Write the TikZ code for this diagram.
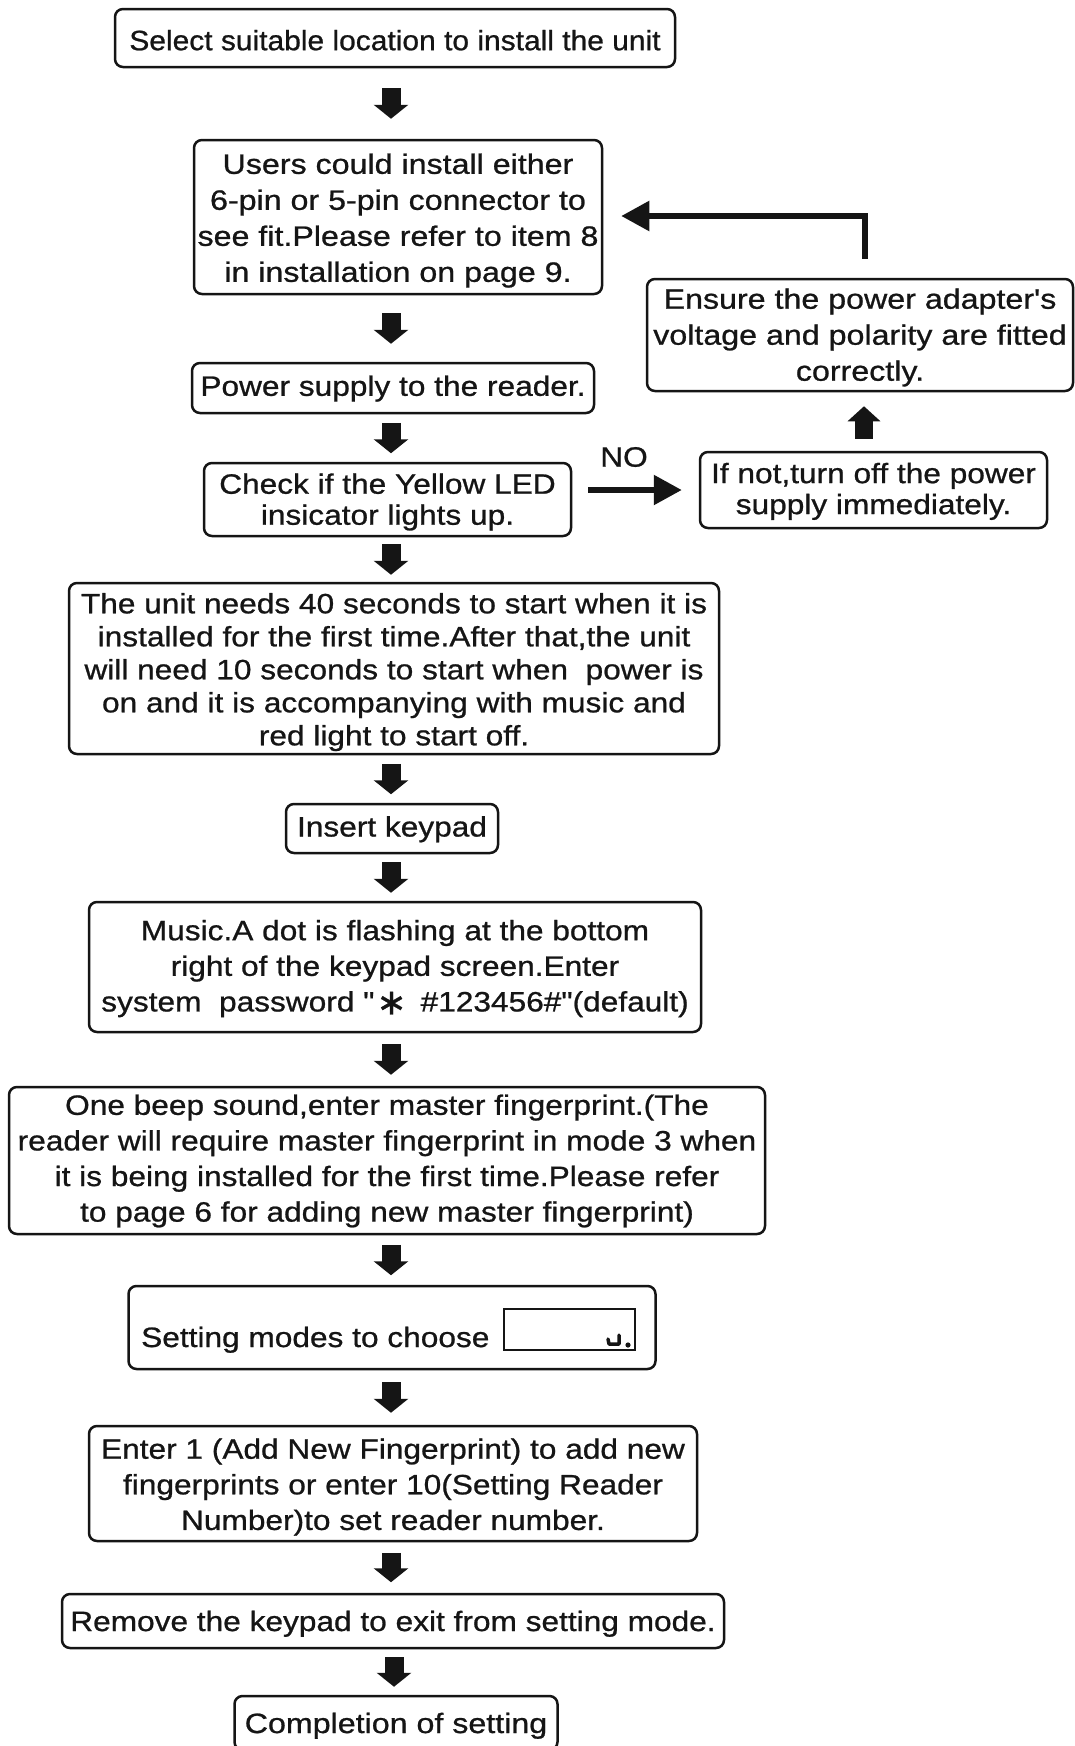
\documentclass[tikz,border=0pt]{standalone}
\usepackage{fontspec}
\usetikzlibrary{arrows.meta}
\newfontfamily\flowfont{Liberation Sans}[FakeStretch=1.13,FakeBold=0.8]
\newfontfamily\flowwide{Liberation Sans}[FakeStretch=1.15,FakeBold=0.8]
\newfontfamily\flownarrow{Liberation Sans}[FakeStretch=1.07,FakeBold=0.8]
\newfontfamily\symfont{DejaVu Sans}[FakeBold=0.8]
\newcommand\fsz[1]{\fontsize{28}{#1}\selectfont}
\newcommand\tp[1]{\rule{0pt}{#1pt}}
\definecolor{ink}{HTML}{151515}
\tikzset{
  box/.style={draw=ink, text=ink, line width=2.5pt, rounded corners=8pt, inner sep=0pt,
    align=center, font=\flowfont\fsz{#1},
    execute at end node={\rule[-6pt]{0pt}{6pt}}},
  box/.default=36,
  hi/.style={execute at end node={\rule[-10pt]{0pt}{10pt}}},
  blk/.style={draw=ink, line width=19pt, -{Triangle[width=34pt,length=14pt]}},
  gap/.style={shorten <=#1, shorten >=#1},
  thinarrow/.style={draw=ink, line width=5.5pt, -{Triangle[width=29pt,length=28pt]}},
}
\begin{document}
\begin{tikzpicture}[x=1pt,y=-1pt]
\useasboundingbox (0,0) rectangle (1075,1746);
\fill[white] (0,0) rectangle (1075,1746);
\coordinate (col) at (391,0);
\coordinate (colb) at (394,0);
\coordinate (colup) at (864,0);
\coordinate (fb) at (865,216);

\node[box, font=\flownarrow\fsz{36}, minimum width=560pt, minimum height=58pt] (b1) at (395,38) {\tp{30.4}Select suitable location to install the unit};
\node[box, font=\flowwide\fsz{36}, minimum width=408pt, minimum height=154pt] (b2) at (398,217) {\tp{27.6}Users could install either\\6-pin or 5-pin connector to\\see fit.Please refer to item 8\\in installation on page 9.};
\node[box, minimum width=402pt, minimum height=50pt] (b3) at (393,388) {\tp{21.6}Power supply to the reader.};
\node[box=31, minimum width=367pt, minimum height=73pt] (b4) at (387.5,499.5) {\tp{25.4}Check if the Yellow LED\\insicator lights up.};
\node[box=31, minimum width=347pt, minimum height=76pt] (b5) at (873.5,490) {\tp{23.2}If not,turn off the power\\supply immediately.};
\node[box, font=\flowwide\fsz{36}, minimum width=426pt, minimum height=112pt] (b6) at (860,335) {\tp{25.4}Ensure the power adapter's\\voltage and polarity are fitted\\correctly.};
\node[text=ink, font=\flowfont\fsz{31}, inner sep=0pt] (no) at (624,457) {NO};
\node[box=33, minimum width=650pt, minimum height=171pt] (b7) at (394,668.5) {\tp{27.6}The unit needs 40 seconds to start when it is\\installed for the first time.After that,the unit\\will need 10 seconds to start when\ \ power is\\on and it is accompanying with music and\\red light to start off.};
\node[box, hi, minimum width=212pt, minimum height=49pt] (b8) at (392,828.5) {\tp{26}Insert keypad};
\node[box=35.6, hi, minimum width=612pt, minimum height=130pt] (b9) at (395,967) {\tp{27.6}Music.A dot is flashing at the bottom\\right of the keypad screen.Enter\\system\ \ password "\hspace{2pt}\raisebox{-3pt}{\symfont\fontsize{36}{36}\selectfont ∗}\hspace{14pt}\#123456\#"(default)};
\node[box=35.6, hi, minimum width=756pt, minimum height=147pt] (b10) at (387,1160.5) {\tp{25.4}One beep sound,enter master fingerprint.(The\\reader will require master fingerprint in mode 3 when\\it is being installed for the first time.Please refer\\to page 6 for adding new master fingerprint)};
\node[box, minimum width=527pt, minimum height=83pt] (b11) at (392,1327.5) {};
\node[text=ink, font=\flowfont\fsz{33}, inner sep=0pt, anchor=base west] (b11t) at (141,1347) {Setting modes to choose};
\node[draw=ink, line width=1.8pt, minimum width=131pt, minimum height=41pt, inner sep=0pt] (lcd) at (569.5,1329.5) {};
\draw[ink, line width=3.5pt, line cap=round, line join=round] (619,1335) -- (619,1344) -- (609,1344) -- (608,1339);
\fill[ink] (628,1345) circle (2.6);
\node[box=35.6, minimum width=608pt, minimum height=115pt] (b12) at (393,1483.5) {\tp{27.6}Enter 1 (Add New Fingerprint) to add new\\fingerprints or enter 10(Setting Reader\\Number)to set reader number.};
\node[box, minimum width=662pt, minimum height=54pt] (b13) at (393,1621) {\tp{26}Remove the keypad to exit from setting mode.};
\node[box, font=\flowwide\fsz{36}, minimum width=323pt, minimum height=54pt] (b14) at (396,1723) {\tp{26}Completion of setting};

\draw[blk, gap=20pt] (b1.south -| col) -- (b2.north -| col);
\draw[blk, gap=18pt] (b2.south -| col) -- (b3.north -| col);
\draw[blk, gap=8.5pt] (b3.south -| col) -- (b4.north -| col);
\draw[blk, gap=7pt] (b4.south -| col) -- (b7.north -| col);
\draw[blk, gap=8.5pt] (b7.south -| col) -- (b8.north -| col);
\draw[blk, gap=8pt] (b8.south -| col) -- (b9.north -| col);
\draw[blk, gap=11pt] (b9.south -| col) -- (b10.north -| col);
\draw[blk, gap=9.5pt] (b10.south -| col) -- (b11.north -| col);
\draw[blk, gap=12pt] (b11.south -| col) -- (b12.north -| col);
\draw[blk, gap=10.5pt] (b12.south -| col) -- (b13.north -| col);
\draw[blk, shorten <=8pt, shorten >=8pt] (b13.south -| colb) -- (b14.north -| colb);

\draw[thinarrow, shorten <=16pt, shorten >=17pt] (b4.east |- b5.west) -- (b5.west);
\draw[draw=ink, line width=18pt, -{Triangle[width=32pt,length=15pt]}, shorten <=12pt, shorten >=14pt] (b5.north -| colup) -- (b6.south -| colup);
\draw[thinarrow, line join=miter, shorten <=19pt, shorten >=18pt] (b6.north -| fb) -- (fb) -- (b2.east |- fb);
\end{tikzpicture}
\end{document}
